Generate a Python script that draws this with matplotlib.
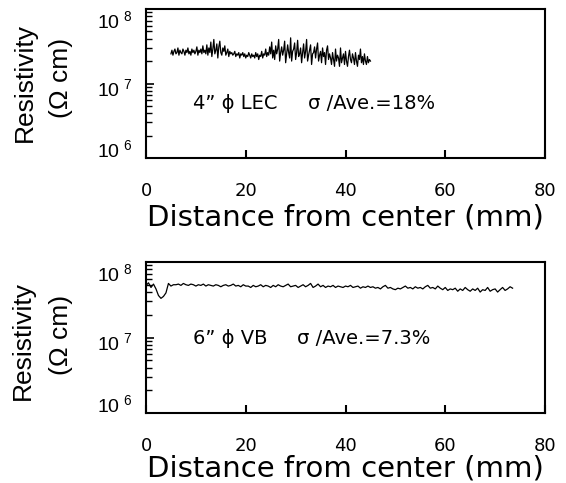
import numpy as np
import matplotlib
matplotlib.use("Agg")
import matplotlib.pyplot as plt
import matplotlib.transforms as mtransforms

plt.rcParams['font.family'] = ['Liberation Sans', 'DejaVu Sans']
plt.rcParams['mathtext.fontset'] = 'custom'
plt.rcParams['mathtext.rm'] = 'Liberation Sans'
WIDE = ['DejaVu Sans']

# 4" LEC wafer, resistivity in units of 1e7 ohm cm, scan 5..45 mm
lec_x = np.linspace(5, 45, 201)
lec_r = [2.5, 2.8, 2.4, 2.7, 2.9, 2.5, 2.6, 3.0, 2.4, 2.8, 2.6, 2.5, 2.9, 2.7, 2.4, 2.8, 2.6, 3.0,
         2.5, 2.7, 2.4, 2.9, 2.6, 2.8, 2.5, 2.7, 3.1, 2.4, 2.8, 2.6, 2.9, 2.5, 3.2, 2.6, 2.8, 2.5,
         3.3, 2.4, 3.0, 2.6, 3.6, 2.3, 2.9, 3.9, 2.5, 2.8, 3.4, 2.2, 3.1, 3.7, 2.6, 2.4, 3.0, 2.7,
         3.2, 2.4, 2.6, 2.9, 2.3, 2.7, 2.5,
         2.6, 2.4, 2.5, 2.7, 2.3, 2.5, 2.4, 2.6, 2.2, 2.5, 2.4, 2.6, 2.3, 2.5, 2.2, 2.4, 2.3, 2.6,
         2.4, 2.2, 2.5, 2.3, 2.4, 2.2, 2.6, 2.3, 2.5, 2.1, 2.4, 2.3, 2.7, 2.2, 2.5, 2.4, 2.9, 2.3,
         2.6, 2.4, 3.1, 2.5,
         3.6, 2.2, 2.8, 2.1, 3.2, 2.5, 2.9, 3.9, 2.0, 2.6, 3.1, 2.4, 2.8, 3.7, 1.9, 2.5, 3.3, 2.6,
         2.2, 4.1, 2.0, 2.7, 2.9, 3.5, 2.1, 2.6, 3.8, 2.3, 2.5, 3.0,
         1.9, 2.6, 3.4, 2.2, 2.7, 3.9, 2.0, 2.4, 2.8, 3.3, 1.8, 2.5, 2.6, 3.1, 2.2, 2.9, 3.5, 2.0,
         2.4, 2.7, 1.9, 3.0, 2.3, 2.6, 1.8, 2.8, 3.2, 2.1, 2.5, 2.2,
         1.8, 2.6, 2.1, 1.7, 2.9, 2.0, 2.4, 2.2, 1.7, 3.0, 1.9, 2.2, 2.5, 1.8, 2.7, 2.0, 1.7, 2.3,
         2.8, 2.1, 1.9, 2.5, 2.2, 1.8, 2.6, 2.0, 1.7, 2.4, 2.1, 2.9, 1.9, 2.3, 1.8, 2.5, 2.0, 1.8,
         2.3, 1.9, 2.1, 2.0]

# 6" VB wafer, scan 0..73.5 mm
vb_x = np.linspace(0, 73.5, 148)
vb_r = [4.9, 5.3, 4.6, 5.1, 4.4, 3.6, 3.3, 3.5, 3.9, 5.2, 4.8, 5.0,
        5.0, 5.1, 4.9, 5.2, 5.0, 4.9, 5.1, 5.0, 4.8, 5.0, 4.9, 5.1, 4.8, 5.0, 4.9, 4.8, 5.0, 4.9, 4.7,
        4.9, 5.0, 4.8, 4.9, 5.1, 4.8, 4.9, 4.7, 5.0, 4.8,
        4.8, 4.6, 4.9, 4.7, 4.8, 5.0, 4.7, 4.9, 4.8, 4.6,
        4.9, 4.7, 5.0, 4.8, 4.7, 4.9, 5.1, 4.7, 4.8, 4.9,
        4.6, 4.8, 5.0, 4.7, 4.9, 5.2, 4.6, 4.8, 5.1, 4.7,
        4.9, 4.6, 4.8, 4.7, 4.9, 4.6, 4.8, 4.7, 4.6, 4.8,
        4.7, 4.9, 4.6, 4.7, 4.8, 4.5, 4.7, 4.6, 4.8, 4.6,
        4.7, 4.5, 4.6, 4.4, 4.7, 4.9, 4.5, 4.6, 4.4, 4.3,
        4.5, 4.4, 4.6, 4.8, 4.5, 4.6, 4.4, 4.7, 4.5, 4.6,
        4.4, 4.7, 4.9, 4.5, 4.6, 4.4, 4.8, 4.5, 4.3, 4.6,
        4.2, 4.4, 4.3, 4.5, 4.1, 4.4, 4.2, 4.6, 4.3, 4.1,
        4.4, 4.2, 4.5, 4.0, 4.3, 4.2, 4.6, 4.1, 4.3, 4.4,
        4.0, 4.3, 4.6, 4.2, 4.4, 4.7, 4.5]

x_ticks = [0, 20, 40, 60, 80]
x_labels = ['0', '20', '40', '60', '80']
y_ticks = [1e6, 1e7, 1e8]
y_labels = [r'$\mathregular{10^{\ 6}}$', r'$\mathregular{10^{\ 7}}$', r'$\mathregular{10^{\ 8}}$']

panels = [
    (lec_x, lec_r, "4\u201d \u03d5 LEC", 9.4, "\u03c3 /Ave.=18%", 32.5, 5.47e6, 3),
    (vb_x, vb_r, "6\u201d \u03d5 VB", 9.4, "\u03c3 /Ave.=7.3%", 30.3, 9.8e6, 0),
]

fig = plt.figure(figsize=(5.66, 4.83), dpi=100)
W, H = 566, 483
boxes = [(146, 9, 545, 158), (146, 262, 545, 413)]

for (x, r, name, name_x, note, note_x, note_y, lpad), (l, t, rr, b) in zip(panels, boxes):
    ax = fig.add_axes([l / W, 1 - b / H, (rr - l) / W, (b - t) / H])
    ax.plot(x, np.array(r) * 1e7, color='black', lw=0.9)
    ax.set_yscale('log')
    ax.set_ylim(1e6, 1e8)
    ax.set_xlim(0, 80)
    ax.set_xticks(x_ticks)
    ax.set_xticklabels(x_labels, fontsize=13, family=WIDE)
    ax.set_yticks(y_ticks)
    ax.set_yticklabels(y_labels, fontsize=14)
    ax.tick_params(axis='x', direction='in', length=6, width=1.5, pad=17)
    ax.tick_params(axis='y', which='major', direction='in', length=6, width=1.2, pad=10)
    ax.tick_params(axis='y', which='minor', direction='in', length=4, width=1.0, labelleft=False)
    # shift the decade labels like the printed figure
    for lab, dy in zip(ax.get_yticklabels(), [10, -4, -10]):
        lab.set_transform(lab.get_transform() +
                          mtransforms.ScaledTranslation(0, dy / 100, fig.dpi_scale_trans))
    for s in ax.spines.values():
        s.set_linewidth(1.5)
    ax.set_xlabel('Distance from center (mm)', fontsize=21, family=WIDE, labelpad=lpad)
    ax.text(name_x, note_y, name, fontsize=14, family=WIDE, ha='left', va='center')
    ax.text(note_x, note_y, note, fontsize=14, family=WIDE, ha='left', va='center')

fig.text(25 / W, 1 - 82 / H, 'Resistivity', rotation=90, fontsize=19, ha='center', va='center')
fig.text(61 / W, 1 - 78 / H, '(\u03a9 cm)', rotation=90, fontsize=19, ha='center', va='center')
fig.text(23 / W, 1 - 340 / H, 'Resistivity', rotation=90, fontsize=19, ha='center', va='center')
fig.text(61 / W, 1 - 335 / H, '(\u03a9 cm)', rotation=90, fontsize=19, ha='center', va='center')

fig.savefig('out.png', dpi=100)
